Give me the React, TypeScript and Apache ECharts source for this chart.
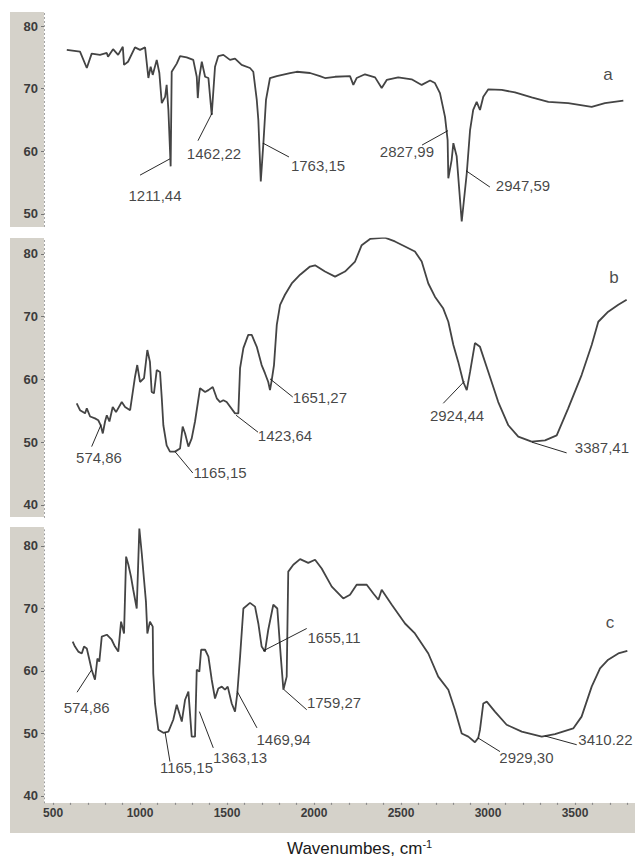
import React, { useEffect, useRef } from 'react';
import * as echarts from 'echarts';

// ---------- axis ranges & ticks ----------
const X_MIN = 448;
const X_MAX = 3845;
const xTickLabels = [500, 1000, 1500, 2000, 2500, 3000, 3500];
const xMinorTicks = [
  500, 600, 700, 800, 900, 1000, 1100, 1200, 1300, 1400, 1500, 1600, 1700, 1800, 1900,
  2000, 2100, 2200, 2300, 2400, 2500, 2600, 2700, 2800, 2900, 3000, 3100, 3200, 3300,
  3400, 3500, 3600, 3700, 3800,
];
const yTicksA = [50, 60, 70, 80];
const yTicksB = [40, 50, 60, 70, 80];
const yTicksC = [40, 50, 60, 70, 80];
const yRangeA = [48, 82];
const yRangeB = [38, 82.5];
const yRangeC = [38.9, 83];

// ---------- spectra (wavenumber, transmittance) ----------
const spectrumA: [number, number][] = [
  [579, 76.2], [655, 75.9], [694, 73.3], [722, 75.6], [770, 75.4], [809, 75.7], [816, 75.1],
  [845, 76.3], [874, 75.4], [901, 76.7], [908, 73.8], [931, 74.3], [971, 76.6], [1000, 76.2],
  [1029, 76.6], [1048, 71.7], [1061, 73.5], [1073, 72.2], [1096, 74.6], [1111, 72.5],
  [1125, 67.7], [1144, 68.7], [1153, 70.6], [1163, 66.6], [1176, 57.6], [1182, 72.7],
  [1211, 74.0], [1230, 75.2], [1268, 75.0], [1306, 74.6], [1326, 71.9], [1332, 68.5],
  [1341, 71.9], [1355, 74.3], [1374, 71.9], [1393, 71.7], [1412, 65.8], [1431, 73.5],
  [1450, 75.2], [1479, 75.4], [1517, 74.6], [1546, 74.8], [1584, 73.8], [1632, 73.3],
  [1651, 72.7], [1671, 68.2], [1680, 65.0], [1694, 55.2], [1709, 61.3], [1724, 68.2],
  [1747, 71.7], [1786, 72.0], [1862, 72.5], [1901, 72.7], [1977, 72.5], [2034, 72.0],
  [2063, 71.7], [2121, 71.9], [2207, 72.0], [2226, 70.6], [2245, 71.7], [2293, 72.3],
  [2351, 71.8], [2389, 70.1], [2418, 71.4], [2484, 71.8], [2561, 71.5], [2619, 70.6],
  [2667, 71.3], [2695, 70.9], [2724, 69.3], [2753, 65.5], [2768, 61.8], [2772, 55.7],
  [2791, 58.6], [2801, 61.3], [2820, 59.2], [2849, 48.8], [2878, 56.5], [2897, 63.4],
  [2915, 66.6], [2935, 67.9], [2954, 66.6], [2973, 68.7], [3002, 69.9], [3079, 69.8],
  [3155, 69.4], [3251, 68.6], [3347, 67.9], [3461, 67.7], [3596, 67.1], [3672, 67.7],
  [3778, 68.1],
];

const spectrumB: [number, number][] = [
  [636, 56.2], [655, 55.1], [684, 54.6], [694, 55.4], [713, 54.1], [741, 53.8], [760, 53.5],
  [774, 52.7], [786, 51.4], [799, 53.3], [809, 54.3], [824, 53.3], [843, 55.6], [862, 54.8],
  [895, 56.4], [914, 55.6], [943, 55.1], [971, 60.4], [984, 62.3], [1000, 59.6], [1023, 60.2],
  [1042, 64.7], [1057, 62.8], [1067, 58.0], [1080, 57.8], [1096, 61.5], [1115, 61.2],
  [1125, 57.0], [1134, 52.7], [1153, 49.5], [1172, 48.5], [1201, 48.5], [1230, 49.0],
  [1245, 52.5], [1259, 51.4], [1278, 49.3], [1297, 50.6], [1316, 53.3], [1345, 58.6],
  [1374, 58.0], [1393, 58.3], [1418, 58.8], [1441, 57.0], [1460, 56.4], [1479, 56.7],
  [1498, 56.4], [1546, 54.6], [1565, 54.6], [1575, 61.8], [1594, 65.0], [1622, 67.1],
  [1642, 67.1], [1671, 65.2], [1699, 62.3], [1718, 61.0], [1737, 59.6], [1747, 58.3],
  [1757, 59.9], [1770, 62.3], [1786, 68.7], [1805, 71.9], [1833, 73.5], [1872, 75.3],
  [1920, 76.7], [1977, 78.0], [2006, 78.2], [2063, 77.2], [2121, 76.4], [2178, 77.2],
  [2236, 78.8], [2274, 81.4], [2322, 82.4], [2408, 82.6], [2465, 82.0], [2523, 81.2],
  [2580, 80.4], [2619, 78.8], [2657, 75.3], [2695, 73.2], [2743, 71.3], [2772, 69.2],
  [2801, 65.5], [2829, 62.8], [2858, 59.6], [2878, 58.3], [2897, 61.2], [2925, 65.8],
  [2954, 65.2], [3002, 61.2], [3059, 56.4], [3117, 52.7], [3174, 50.9], [3251, 50.1],
  [3328, 50.3], [3395, 51.1], [3461, 55.4], [3538, 60.7], [3596, 65.5], [3634, 69.2],
  [3691, 70.8], [3749, 71.9], [3797, 72.7],
];

const spectrumC: [number, number][] = [
  [613, 64.7], [626, 63.9], [645, 63.1], [665, 62.8], [678, 63.9], [694, 63.6], [709, 61.8],
  [722, 60.2], [741, 58.6], [755, 62.0], [766, 61.5], [780, 65.5], [809, 65.8], [837, 65.0],
  [856, 63.9], [875, 63.1], [891, 67.9], [908, 66.0], [920, 78.3], [933, 77.0], [948, 75.1],
  [961, 73.0], [981, 70.0], [996, 82.8], [1010, 78.8], [1023, 74.6], [1034, 71.1],
  [1042, 66.0], [1057, 67.9], [1073, 67.1], [1076, 59.6], [1086, 54.8], [1105, 50.6],
  [1134, 50.1], [1163, 50.3], [1191, 52.2], [1211, 54.6], [1240, 51.9], [1259, 55.4],
  [1278, 56.7], [1297, 49.5], [1316, 49.5], [1326, 60.2], [1341, 59.9], [1351, 63.4],
  [1374, 63.4], [1393, 62.3], [1412, 58.6], [1431, 55.6], [1450, 57.2], [1470, 57.5],
  [1488, 57.0], [1504, 57.5], [1527, 54.8], [1546, 53.5], [1559, 56.4], [1575, 62.3],
  [1594, 70.0], [1632, 70.9], [1661, 70.3], [1680, 67.6], [1699, 63.9], [1718, 63.1],
  [1737, 66.6], [1766, 70.6], [1789, 70.0], [1809, 62.3], [1824, 57.0], [1843, 59.1],
  [1852, 75.9], [1881, 77.0], [1920, 77.9], [1967, 77.3], [2006, 77.8], [2044, 76.4],
  [2102, 73.5], [2168, 71.6], [2207, 72.2], [2245, 73.8], [2303, 73.8], [2341, 72.4],
  [2370, 71.4], [2389, 73.0], [2447, 70.6], [2523, 67.6], [2580, 66.0], [2657, 62.8],
  [2714, 59.1], [2772, 57.0], [2810, 53.8], [2849, 50.0], [2887, 49.5], [2925, 48.6],
  [2944, 49.3], [2954, 50.6], [2973, 54.8], [2993, 55.1], [3040, 53.5], [3107, 51.4],
  [3194, 50.3], [3309, 49.5], [3385, 49.9], [3490, 50.8], [3538, 52.7], [3596, 57.5],
  [3644, 60.4], [3691, 61.8], [3749, 62.8], [3801, 63.2],
];

// ---------- peak annotations ----------
type Ann = { label: string; at: [number, number]; from: [number, number]; to: [number, number] };

const peaksA: Ann[] = [
  { label: '1211,44', at: [1086, 53.0], from: [1000, 56.2], to: [1172, 58.8] },
  { label: '1462,22', at: [1425, 59.7], from: [1333, 61.7], to: [1414, 66.1] },
  { label: '1763,15', at: [2023, 57.8], from: [1707, 61.3], to: [1856, 59.1] },
  { label: '2827,99', at: [2534, 59.9], from: [2621, 61.0], to: [2770, 63.3] },
  { label: '2947,59', at: [3201, 54.6], from: [2874, 56.9], to: [3011, 54.3] },
];
const peaksB: Ann[] = [
  { label: '574,86', at: [764, 47.6], from: [722, 49.3], to: [776, 52.8] },
  { label: '1165,15', at: [1460, 45.1], from: [1201, 48.5], to: [1303, 45.1] },
  { label: '1423,64', at: [1833, 51.1], from: [1552, 54.3], to: [1678, 51.6] },
  { label: '1651,27', at: [2034, 57.2], from: [1747, 60.1], to: [1878, 57.2] },
  { label: '2924,44', at: [2822, 54.3], from: [2743, 56.2], to: [2864, 59.7] },
  { label: '3387,41', at: [3655, 49.1], from: [3253, 50.0], to: [3452, 48.3] },
];
const peaksC: Ann[] = [
  { label: '574,86', at: [693, 54.1], from: [638, 56.6], to: [722, 60.2] },
  { label: '1165,15', at: [1267, 44.6], from: [1144, 50.2], to: [1172, 45.5] },
  { label: '1363,13', at: [1575, 46.1], from: [1341, 53.5], to: [1421, 47.7] },
  { label: '1469,94', at: [1825, 49.1], from: [1559, 56.7], to: [1672, 50.9] },
  { label: '1655,11', at: [2115, 65.4], from: [1707, 63.2], to: [1958, 66.8] },
  { label: '1759,27', at: [2115, 54.9], from: [1828, 57.0], to: [1958, 53.8] },
  { label: '2929,30', at: [3221, 46.2], from: [2942, 49.3], to: [3069, 47.1] },
  { label: '3410.22', at: [3675, 49.1], from: [3327, 49.6], to: [3510, 48.2] },
];

const panelNames = ['a', 'b', 'c'];
const panelNameAt: [number, number][] = [[3690, 72.2], [3724, 76.3], [3701, 67.8]];

const FONT = '"Liberation Sans", Arial, Helvetica, sans-serif';
const GRAY = '#d5d2ca';

export default function App() {
  const ref = useRef<HTMLDivElement>(null);

  useEffect(() => {
    if (!ref.current) return;
    const chart = echarts.init(ref.current, undefined, { renderer: 'svg' });

    const grids = [
      { left: 44, top: 13.5, width: 591, height: 213 },
      { left: 44, top: 238.3, width: 591, height: 279.2 },
      { left: 44, top: 527.25, width: 591, height: 275.6 },
    ].map((g) => ({ ...g, outerBoundsMode: 'none', containLabel: false }));

    const yTicks = [yTicksA, yTicksB, yTicksC];
    const yRanges = [yRangeA, yRangeB, yRangeC];
    const spectra = [spectrumA, spectrumB, spectrumC];
    const peaks = [peaksA, peaksB, peaksC];

    const xAxis = [0, 1, 2].map((i) => ({
      type: 'value',
      gridIndex: i,
      min: X_MIN,
      max: X_MAX,
      show: i === 2,
      axisLine: { show: false },
      splitLine: { show: false },
      axisTick: {
        show: true,
        customValues: xMinorTicks,
        length: 2,
        lineStyle: { color: '#8a8a8a', width: 1.2 },
      },
      axisLabel: {
        show: true,
        customValues: xTickLabels,
        formatter: (v: number) => String(v),
        color: '#3c3c3c',
        fontWeight: 'bold',
        fontSize: 12,
        fontFamily: FONT,
        margin: 4,
      },
    }));

    const yAxis = [0, 1, 2].map((i) => ({
      type: 'value',
      gridIndex: i,
      min: yRanges[i][0],
      max: yRanges[i][1],
      axisLine: { show: true, lineStyle: { color: '#9a9a9a', width: 1, type: [1, 3] } },
      splitLine: { show: false },
      axisTick: {
        show: true,
        customValues: yTicks[i],
        length: 3,
        lineStyle: { color: '#777' },
      },
      axisLabel: {
        customValues: yTicks[i],
        formatter: (v: number) => String(v),
        color: '#3c3c3c',
        fontWeight: 'bold',
        fontSize: 13,
        fontFamily: FONT,
        margin: 6,
      },
    }));

    const series: any[] = [];
    [0, 1, 2].forEach((i) => {
      series.push({
        type: 'line',
        xAxisIndex: i,
        yAxisIndex: i,
        data: spectra[i],
        symbol: 'none',
        showSymbol: false,
        silent: true,
        lineStyle: { color: '#444444', width: 1.8 },
        z: 3,
        markLine: {
          silent: true,
          symbol: ['none', 'none'],
          label: { show: false },
          emphasis: { disabled: true },
          lineStyle: { color: '#111111', width: 0.9, type: 'solid' },
          data: peaks[i].map((p) => [{ coord: p.from }, { coord: p.to }]),
        },
      });
      series.push({
        type: 'scatter',
        xAxisIndex: i,
        yAxisIndex: i,
        symbolSize: 1,
        silent: true,
        itemStyle: { color: 'rgba(0,0,0,0)' },
        data: peaks[i].map((p) => ({ value: p.at, name: p.label })),
        label: {
          show: true,
          position: 'inside',
          formatter: (prm: any) => prm.name,
          color: '#141414',
          fontSize: 15,
          fontFamily: FONT,
        },
        z: 4,
      });
      series.push({
        type: 'scatter',
        xAxisIndex: i,
        yAxisIndex: i,
        symbolSize: 1,
        silent: true,
        itemStyle: { color: 'rgba(0,0,0,0)' },
        data: [{ value: panelNameAt[i], name: panelNames[i] }],
        label: {
          show: true,
          position: 'inside',
          formatter: (prm: any) => prm.name,
          color: '#1a1a1a',
          fontSize: 17,
          fontFamily: FONT,
        },
        z: 4,
      });
    });

    chart.setOption({
      animation: false,
      backgroundColor: '#ffffff',
      grid: grids,
      xAxis,
      yAxis,
      series,
      graphic: [
        { type: 'rect', z: -1, shape: { x: 10, y: 12, width: 34, height: 215 }, style: { fill: GRAY } },
        { type: 'rect', z: -1, shape: { x: 10, y: 238, width: 34, height: 279 }, style: { fill: GRAY } },
        { type: 'rect', z: -1, shape: { x: 10, y: 527, width: 34, height: 306 }, style: { fill: GRAY } },
        { type: 'rect', z: -1, shape: { x: 10, y: 803, width: 625, height: 30 }, style: { fill: GRAY } },
        {
          type: 'text',
          z: 10,
          x: 287,
          y: 848,
          style: {
            text: '{a|Wavenumbes, cm}{b|-1}',
            verticalAlign: 'middle',
            align: 'left',
            rich: {
              a: { fontSize: 17, fontFamily: FONT, fill: '#1a1a1a', lineHeight: 20 },
              b: { fontSize: 11, fontFamily: FONT, fill: '#1a1a1a', verticalAlign: 'top', lineHeight: 11 },
            },
          },
        },
      ],
    });

    return () => chart.dispose();
  }, []);

  return (
    <div
      ref={ref}
      style={{ position: 'absolute', left: 0, top: 0, width: 635, height: 861 }}
    />
  );
}
